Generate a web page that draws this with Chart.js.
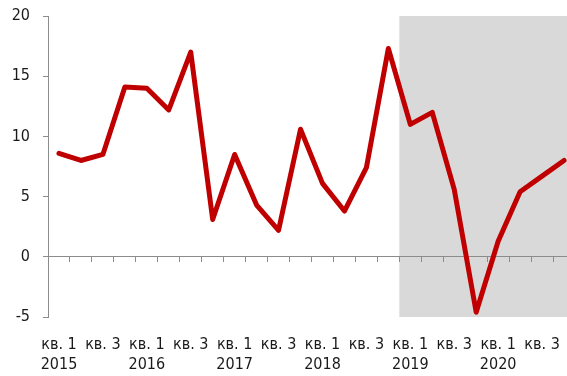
<!DOCTYPE html>
<html>
<head>
<meta charset="utf-8">
<script src="https://cdn.jsdelivr.net/npm/chart.js@4/dist/chart.umd.min.js"></script>
<style>
    html, body { margin: 0; padding: 0; background: #fff; overflow: hidden; }
    #chart { display: block; }
</style>
</head>
<body>
<canvas id="chart" width="575" height="376"></canvas>
<script>
    // исходные данные
    const years = ['2015', '2016', '2017', '2018', '2019', '2020'];
    const quarterNames = ['кв. 1', 'кв. 2', 'кв. 3', 'кв. 4'];
    const growth = [
        8.6, 8.0, 8.5, 14.1,
        14.0, 12.2, 17.0, 3.1,
        8.5, 4.3, 2.2, 10.6,
        6.1, 3.8, 7.4, 17.3,
        11.0, 12.0, 5.6, -4.6,
        1.3, 5.4, 6.7, 8.0
    ];
    const yTicks = [-5, 0, 5, 10, 15, 20];
    // серая зона начинается с 1 кв. 2019
    const shadeFrom = '2019 кв. 1';

    const categories = [];
    years.forEach((y) => {
        quarterNames.forEach((q) => categories.push(y + ' ' + q));
    });

    const FONT = { family: '"DejaVu Sans Condensed", "DejaVu Sans", sans-serif', size: 16, lineHeight: 1.3 };

    // убираем отступы под подписи, размеры области задаём сами
    const noPad = (s) => {
        s.paddingTop = 0;
        s.paddingBottom = 0;
        s.paddingLeft = 0;
        s.paddingRight = 0;
    };

    // заливка прогнозного периода
    const shadePlugin = {
        id: 'shade',
        beforeDraw(chart) {
            const x = chart.scales.x;
            const area = chart.chartArea;
            const idx = categories.indexOf(shadeFrom);
            const half = (x.getPixelForValue(1) - x.getPixelForValue(0)) / 2;
            const left = x.getPixelForValue(idx) - half;
            const ctx = chart.ctx;
            ctx.save();
            ctx.fillStyle = '#d9d9d9';
            ctx.fillRect(left, area.top, area.right - left, area.bottom - area.top);
            ctx.restore();
        }
    };

    new Chart(document.getElementById('chart'), {
        type: 'line',
        data: {
            labels: categories,
            datasets: [{
                data: growth,
                borderColor: '#c00000',
                borderWidth: 5,
                borderCapStyle: 'round',
                borderJoinStyle: 'round',
                pointRadius: 0,
                tension: 0,
                fill: false
            }]
        },
        options: {
            responsive: false,
            animation: false,
            events: [],
            layout: { padding: { top: 16, left: 0, right: 0, bottom: 0 } },
            plugins: {
                legend: { display: false },
                tooltip: { enabled: false }
            },
            scales: {
                x: {
                    type: 'category',
                    offset: true,
                    border: { display: false },
                    grid: { display: false, drawTicks: false },
                    afterFit: (s) => { s.height = 59; noPad(s); },
                    ticks: {
                        autoSkip: false,
                        maxRotation: 0,
                        minRotation: 0,
                        padding: 17,
                        color: '#1a1a1a',
                        font: FONT,
                        callback: function(val, i) {
                            if (i % 2 !== 0) return '';
                            const q = quarterNames[i % 4];
                            return i % 4 === 0 ? [q, years[i / 4]] : [q, ''];
                        }
                    }
                },
                // линия нуля с делениями
                x0: {
                    type: 'category',
                    labels: categories,
                    position: { y: 0 },
                    offset: true,
                    afterFit: noPad,
                    border: { display: true, color: '#8c8c8c', width: 1 },
                    grid: { drawOnChartArea: false, drawTicks: true, tickLength: 5, color: '#8c8c8c', offset: true },
                    ticks: { display: false, autoSkip: false }
                },
                y: {
                    min: -5,
                    max: 20,
                    afterFit: (s) => { s.width = 48; noPad(s); },
                    afterBuildTicks: (s) => { s.ticks = yTicks.map((v) => ({ value: v })); },
                    border: { display: true, color: '#8c8c8c', width: 1 },
                    grid: { drawOnChartArea: false, drawTicks: true, tickLength: 5, color: '#8c8c8c' },
                    ticks: {
                        padding: 13,
                        color: '#1a1a1a',
                        font: FONT
                    }
                }
            }
        },
        plugins: [shadePlugin]
    });
</script>
</body>
</html>
